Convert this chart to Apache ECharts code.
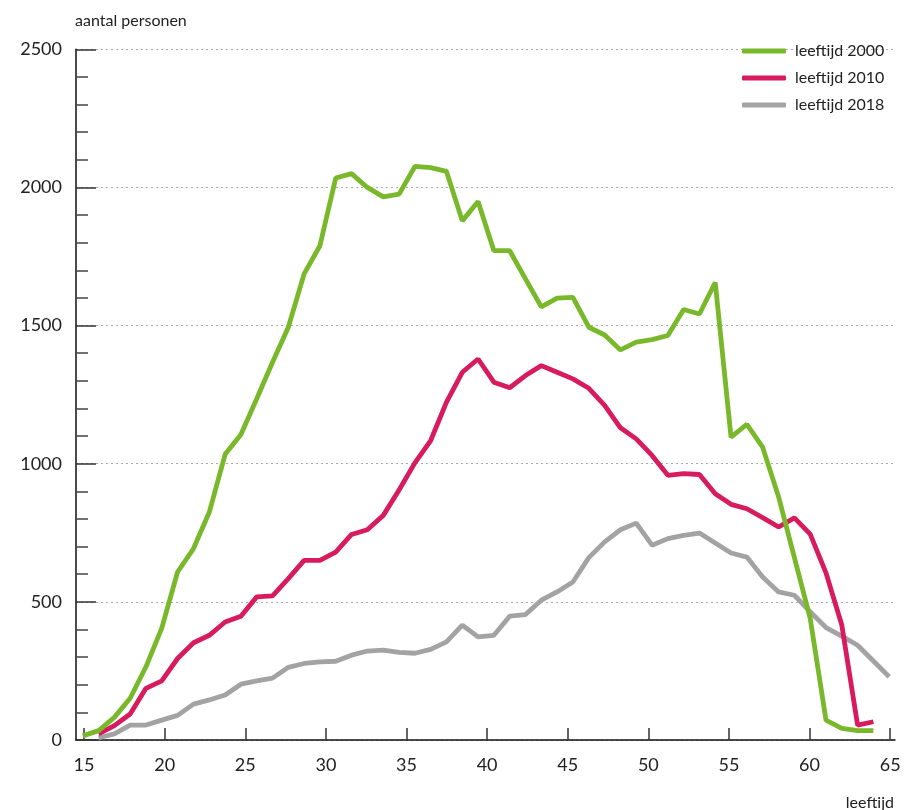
<!DOCTYPE html>
<html>
<head>
<meta charset="utf-8">
<script src="https://cdn.jsdelivr.net/npm/echarts@6/dist/echarts.min.js"></script>
<style>
  html, body { margin: 0; padding: 0; background: #ffffff; }
  #chart { width: 904px; height: 810px; }
</style>
</head>
<body>
<div id="chart"></div>
<script>
// Ages (x positions as read against the age axis)
var ages = [14.92, 15.90, 16.88, 17.86, 18.84, 19.82, 20.80, 21.79, 22.77, 23.75,
            24.73, 25.71, 26.69, 27.67, 28.65, 29.63, 30.61, 31.59, 32.57, 33.56,
            34.54, 35.52, 36.50, 37.48, 38.46, 39.44, 40.42, 41.40, 42.38, 43.36,
            44.34, 45.32, 46.31, 47.29, 48.27, 49.25, 50.23, 51.21, 52.19, 53.17,
            54.15, 55.13, 56.11, 57.09, 58.08, 59.06, 60.04, 61.02, 62.00, 62.98,
            63.96, 64.94];

var leeftijd2000 = [15, 34, 82, 151, 265, 405, 608, 693, 825, 1034,
                    1106, 1235, 1367, 1494, 1687, 1789, 2034, 2050, 2000, 1966,
                    1976, 2076, 2072, 2058, 1879, 1949, 1771, 1771, 1669, 1568,
                    1599, 1602, 1494, 1466, 1412, 1440, 1449, 1464, 1558, 1542,
                    1656, 1096, 1142, 1060, 880, 660, 440, 72, 42, 34,
                    34, null];

var leeftijd2010 = [null, 22, 52, 94, 187, 214, 295, 352, 379, 427,
                    448, 518, 522, 584, 650, 650, 680, 744, 761, 813,
                    905, 1003, 1084, 1223, 1331, 1379, 1295, 1275, 1319, 1355,
                    1331, 1307, 1273, 1211, 1130, 1090, 1030, 958, 964, 961,
                    891, 853, 837, 805, 771, 804, 745, 605, 416, 54,
                    66, null];

var leeftijd2018 = [null, 8, 22, 54, 54, 72, 89, 130, 145, 163,
                    202, 214, 224, 263, 277, 283, 285, 307, 322, 325,
                    317, 314, 328, 355, 416, 373, 379, 448, 454, 506,
                    536, 572, 660, 717, 761, 785, 705, 729, 741, 749,
                    713, 677, 662, 590, 536, 524, 464, 407, 376, 343,
                    286, 229];

var seriesNames = ['leeftijd 2000', 'leeftijd 2010', 'leeftijd 2018'];
var xTicks = [15, 20, 25, 30, 35, 40, 45, 50, 55, 60, 65];
var yTicks = [0, 500, 1000, 1500, 2000, 2500];

function pairs(vals) {
  var out = [];
  for (var i = 0; i < ages.length; i++) {
    if (vals[i] !== null && vals[i] !== undefined) out.push([ages[i], vals[i]]);
  }
  return out;
}

var FONT = 'Lato';
var chart = echarts.init(document.getElementById('chart'), null, { renderer: 'canvas' });

chart.setOption({
  backgroundColor: '#ffffff',
  animation: false,
  textStyle: { fontFamily: FONT },
  title: [
    { text: 'aantal personen', left: 70, top: 8,
      textStyle: { fontFamily: FONT, fontSize: 16, fontWeight: 'normal', color: '#222' } },
    { text: 'leeftijd', right: 5, top: 790,
      textStyle: { fontFamily: FONT, fontSize: 16, fontWeight: 'normal', color: '#222' } }
  ],
  legend: {
    orient: 'vertical',
    left: 737,
    top: 38,
    itemWidth: 44,
    itemHeight: 5,
    itemGap: 11,
    icon: 'roundRect',
    textStyle: { fontFamily: FONT, fontSize: 16, color: '#222', padding: [0, 0, 0, 4] },
    data: seriesNames
  },
  grid: { left: 76, right: 9, top: 49.3, bottom: 70, containLabel: false },
  xAxis: {
    type: 'value',
    min: 14.5,
    max: 65.3,
    axisLine: { show: true, lineStyle: { color: '#111', width: 1.5 } },
    axisTick: { show: true, inside: true, length: 12, customValues: xTicks,
                lineStyle: { color: '#333', width: 1.5 } },
    axisLabel: { show: true, customValues: xTicks, margin: 16,
                 fontFamily: FONT, fontSize: 18, color: '#222',
                 formatter: function (v) { return String(v); } },
    splitLine: { show: false }
  },
  yAxis: {
    type: 'value',
    min: 0,
    max: 2500,
    interval: 500,
    axisLine: { show: true, lineStyle: { color: '#111', width: 1.5 } },
    axisTick: { show: true, inside: true, length: 20, lineStyle: { color: '#333', width: 1.5 } },
    minorTick: { show: true, splitNumber: 5, length: 12, lineStyle: { color: '#444', width: 1.5 } },
    axisLabel: { margin: 14, fontFamily: FONT, fontSize: 18, color: '#222',
                 formatter: function (v) { return String(v); } },
    splitLine: { show: true, lineStyle: { color: '#aaaaaa', type: [2, 3], width: 1 } }
  },
  series: [
    { name: seriesNames[0], type: 'line', data: pairs(leeftijd2000), showSymbol: false, symbol: 'none',
      z: 4, color: '#78b82a', lineStyle: { color: '#78b82a', width: 4.8 } },
    { name: seriesNames[1], type: 'line', data: pairs(leeftijd2010), showSymbol: false, symbol: 'none',
      z: 3, color: '#d81b5e', lineStyle: { color: '#d81b5e', width: 4.8 } },
    { name: seriesNames[2], type: 'line', data: pairs(leeftijd2018), showSymbol: false, symbol: 'none',
      z: 2, color: '#a3a3a3', lineStyle: { color: '#a3a3a3', width: 4.8 } }
  ]
});
</script>
</body>
</html>
